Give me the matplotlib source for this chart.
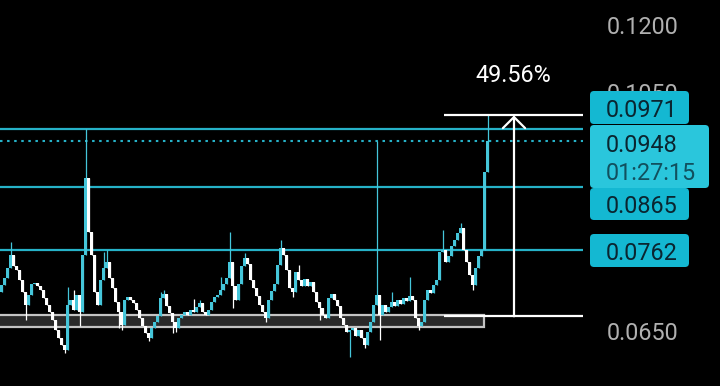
import matplotlib
matplotlib.use('Agg')
import matplotlib.pyplot as plt
from matplotlib.patches import FancyBboxPatch, Rectangle
import matplotlib.transforms as mtransforms
import numpy as np

plt.rcParams['font.family'] = ['Roboto', 'DejaVu Sans']

# ---------------- data ----------------
first_open = 0.0700
closes = [
    0.07104, 0.07204, 0.07351, 0.07544, 0.07380, 0.07321, 0.07175, 0.07005, 0.06825, 0.06963,
    0.07118, 0.07132, 0.07090, 0.07033, 0.06921, 0.06825, 0.06730, 0.06622, 0.06491, 0.06388,
    0.06299, 0.06236, 0.06825, 0.06893, 0.06757, 0.06963, 0.06730, 0.07544, 0.08800, 0.07900,
    0.07544, 0.07005, 0.06825, 0.07175, 0.07351, 0.07439, 0.07204, 0.07061, 0.06866, 0.06730,
    0.06557, 0.06893, 0.06935, 0.06893, 0.06852, 0.06757, 0.06649, 0.06544, 0.06452, 0.06388,
    0.06517, 0.06596, 0.06676, 0.06921, 0.06977, 0.06811, 0.06716, 0.06596, 0.06517, 0.06649,
    0.06689, 0.06730, 0.06689, 0.06757, 0.06730, 0.06798, 0.06852, 0.06730, 0.06689, 0.06757,
    0.06866, 0.06935, 0.06963, 0.07033, 0.07118, 0.07204, 0.07439, 0.07090, 0.06893, 0.07118,
    0.07380, 0.07499, 0.07409, 0.07175, 0.07061, 0.06949, 0.06825, 0.06730, 0.06649, 0.06893,
    0.07019, 0.07118, 0.07394, 0.07650, 0.07544, 0.07321, 0.07061, 0.07005, 0.07292, 0.07175,
    0.07090, 0.07190, 0.07090, 0.07147, 0.07005, 0.06866, 0.06784, 0.06689, 0.06649, 0.06921,
    0.06977, 0.06893, 0.06811, 0.06649, 0.06557, 0.06465, 0.06491, 0.06517, 0.06414, 0.06491,
    0.06388, 0.06299, 0.06465, 0.06596, 0.06825, 0.06963, 0.06689, 0.06825, 0.06730, 0.06798,
    0.06866, 0.06811, 0.06893, 0.06838, 0.06921, 0.06879, 0.06949, 0.06893, 0.06649, 0.06544,
    0.06596, 0.06893, 0.07033, 0.06991, 0.07104, 0.07175, 0.07590, 0.07620, 0.07439, 0.07529,
    0.07681, 0.07774, 0.07884, 0.07964, 0.07620, 0.07439, 0.07248, 0.07104, 0.07351, 0.07529,
    0.07620, 0.08909, 0.09480,
]
wick_high_idx = [3, 22, 24, 28, 29, 34, 35, 53, 54, 64, 66, 73, 76, 81, 93, 99, 125, 130,
                 136, 147, 153, 162]
wick_high_val = [0.07743, 0.07076, 0.07033, 0.0971, 0.08803, 0.0759, 0.0762, 0.07005,
                 0.07033, 0.06907, 0.06893, 0.07219, 0.0790, 0.07574, 0.07774, 0.07394,
                 0.0948, 0.07005, 0.07219, 0.0793, 0.0804, 0.0998]
wick_low_idx = [8, 21, 26, 39, 40, 49, 57, 58, 77, 88, 97, 106, 116, 121, 126, 139, 157]
wick_low_val = [0.06622, 0.06199, 0.06544, 0.06517, 0.06491, 0.06349, 0.06452, 0.06465,
                0.06784, 0.06596, 0.06935, 0.06622, 0.06149, 0.06261, 0.06362, 0.06491,
                0.07033]

level_lines = [0.0971, 0.0865, 0.0762]
level_labels = ['0.0971', '0.0865', '0.0762']
current_price = 0.0948
current_label = '0.0948'
countdown = '01:27:15'
axis_values = [0.1200, 0.1050, 0.0650]
axis_labels = ['0.1200', '0.1050', '0.0650']
zone_low, zone_high = 0.0653, 0.0669
measure_low, measure_high = 0.06673, 0.0998
measure_text = '49.56%'

# ---------------- styles ----------------
BG = '#000000'
UP = '#45c6da'
DOWN = '#ffffff'
LINE = '#26b2c8'
BOX = '#14b8d2'
BOX2 = '#2ac6dc'
BOXTXT = '#0a2530'
GRAY = '#b0b0b0'
FS = 16.8

W, H = 720, 386
fig = plt.figure(figsize=(W / 100, H / 100), dpi=100, facecolor=BG)
ax = fig.add_axes([0, 0, 1, 1])
ax.set_facecolor(BG)
ax.set_yscale('log')
ax.set_ylim(0.05803, 0.12578)
ax.set_xlim(-0.5, -0.5 + W / 3)
ax.axis('off')

closes_a = np.array(closes)
opens_a = np.concatenate([[first_open], closes_a[:-1]])
highs = np.maximum(opens_a, closes_a)
lows = np.minimum(opens_a, closes_a)
for i, v in zip(wick_high_idx, wick_high_val):
    highs[i] = max(highs[i], v)
for i, v in zip(wick_low_idx, wick_low_val):
    lows[i] = min(lows[i], v)
xs = np.arange(len(closes_a))
cols = [UP if c >= o else DOWN for o, c in zip(opens_a, closes_a)]

yt = ax.get_yaxis_transform()

# zone rectangle
ax.add_patch(Rectangle((-0.02, zone_low), 484 / W + 0.02, zone_high - zone_low,
                       transform=yt, fc='#2a2a2a', ec='#c4c4c4', lw=1.6, zorder=1))

# candles
ax.vlines(xs, lows, highs, colors=cols, lw=0.9, zorder=3)
ax.bar(xs, np.maximum(closes_a, opens_a) - np.minimum(closes_a, opens_a),
       bottom=np.minimum(closes_a, opens_a), width=0.85, color=cols, lw=0, zorder=3)

# level lines
for v in level_lines:
    ax.hlines(v, 0, 583 / W, transform=yt, color=LINE, lw=1.6, zorder=2)
ax.hlines(current_price, 0, 583 / W, transform=yt, color=LINE, lw=1.5,
          linestyles=(0, (1.2, 2.2)), zorder=2)

# measurement tool
for v in (measure_low, measure_high):
    ax.hlines(v, 444 / W, 583 / W, transform=yt, color='white', lw=1.6, zorder=4)
ax.annotate('', xy=(514 / W, measure_high), xytext=(514 / W, measure_low),
            xycoords=yt, textcoords=yt,
            arrowprops=dict(arrowstyle='->,head_length=0.4,head_width=0.4', color='white',
                            lw=1.6, shrinkA=0, shrinkB=0, mutation_scale=20), zorder=4)
ax.text(513 / W, 1 - 73 / H, measure_text, transform=ax.transAxes, color='white',
        fontsize=FS, ha='center', va='center_baseline')

# axis labels (gray); 0.1050 is partly hidden behind the 0.0971 tag, as in the reference
yt_off = mtransforms.offset_copy(yt, fig=fig, y=-2, units='dots')
for v, s in zip(axis_values, axis_labels):
    ax.text(607 / W, v, s, transform=yt_off, color=GRAY, fontsize=FS, ha='left',
            va='center_baseline', zorder=2)

# label boxes (pixel layout)
pt = fig.dpi_scale_trans


def box(x0, y0, x1, y1, color):
    p = FancyBboxPatch((x0 / 100, (H - y1) / 100), (x1 - x0) / 100, (y1 - y0) / 100,
                       boxstyle='round,pad=0,rounding_size=0.04', transform=pt,
                       fc=color, ec='none', zorder=5)
    ax.add_patch(p)


def label(py, s, color=BOXTXT):
    ax.text(606 / 100, (H - py) / 100, s, transform=pt, color=color, fontsize=FS,
            ha='left', va='center_baseline', zorder=6)


box(590, 91, 689, 124, BOX)
label(108, level_labels[0])
box(590, 125, 709, 188, BOX2)
label(143, current_label)
label(171, countdown, '#11505e')
box(590, 188, 689, 220, BOX)
label(204, level_labels[1])
box(590, 234, 689, 267, BOX)
label(251, level_labels[2])

fig.savefig('out.png', dpi=100, facecolor=BG)
